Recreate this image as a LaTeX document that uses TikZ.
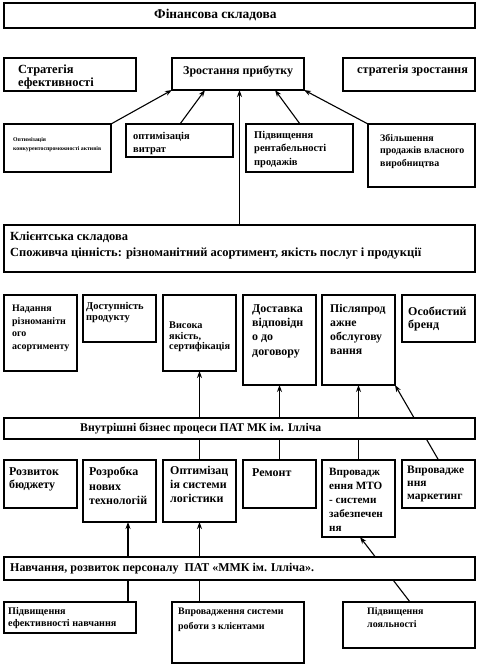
\documentclass[tikz,border=0pt]{standalone}
\usepackage{fontspec}
\setmainfont{Liberation Serif}
\usetikzlibrary{arrows.meta,backgrounds,calc}
\newcommand{\bx}[5]{\node[box, anchor=north west, minimum width={(#4-#2)*1bp}, minimum height={(#5-#3)*1bp}] (#1) at (#2,#3) {};}
\newcommand{\fs}[2]{\fontsize{#1}{#2}\selectfont\bfseries}
\tikzset{
  box/.style={draw, line width=1.3bp, fill=white, inner sep=0pt, outer sep=0pt},
  txt/.style={anchor=north west, inner sep=0pt, align=left},
  arr/.style={line width=1.1bp, -{Stealth[length=7bp,width=5bp]}}
}
\begin{document}
\begin{tikzpicture}[x=1bp,y=-1bp]
\useasboundingbox (0,0) rectangle (501,669);
% --- Financial
\bx{fin}{4}{3}{475}{28}
\node[txt, font=\fs{13.5}{15}] (tfin) at (154,9) {Фінансова складова};
\bx{streff}{4}{58}{136}{91}
\node[txt, font=\fs{12.5}{12.5}] (tstreff) at (18,65) {Стратегія\\ефективності};
\bx{zrost}{172}{58}{304}{90}
\node[txt, font=\fs{12}{13}] (tzrost) at (183,66) {Зростання прибутку};
\bx{strzr}{343}{58}{475}{91}
\node[txt, font=\fs{12.3}{13}] (tstrzr) at (357,65) {стратегія зростання};
\bx{opt1}{4}{124}{111}{172}
\node[txt, font=\fs{5.8}{9}] (topt1) at (13,137) {Оптимізація\\конкурентоспроможності активів};
\bx{opt2}{126}{124}{233}{157}
\node[txt, font=\fs{10.5}{13}] (topt2) at (133,132) {оптимізація\\витрат};
\bx{rent}{246}{124}{353}{172}
\node[txt, font=\fs{10.5}{13.5}] (trent) at (254,131) {Підвищення\\рентабельності\\продажів};
\bx{zbil}{368}{124}{475}{187}
\node[txt, font=\fs{10}{12.5}] (tzbil) at (380,134) {Збільшення\\продажів власного\\виробництва};
% --- Customer
\bx{klient}{4}{225}{475}{272}
\node[txt, font=\fs{12.5}{16}] (tklient) at (10,232) {Клієнтська складова\\Споживча цінність: різноманітний асортимент, якість послуг і продукції};
\bx{nad}{4}{295}{77}{371}
\node[txt, font=\fs{10}{12.5}] (tnad) at (12,305) {Надання\\різноманітн\\ого\\асортименту};
\bx{dost}{83}{295}{156}{342}
\node[txt, font=\fs{10.5}{11}] (tdost) at (86,302) {Доступність\\продукту};
\bx{vys}{163}{295}{236}{371}
\node[txt, font=\fs{10.3}{10.5}] (tvys) at (169,322) {Висока\\якість,\\сертифікація};
\bx{dos}{243}{295}{316}{385}
\node[txt, font=\fs{12}{14.5}] (tdos) at (252,304) {Доставка\\відповідн\\о до\\договору};
\bx{pisl}{322}{295}{395}{385}
\node[txt, font=\fs{11.8}{14}] (tpisl) at (330,304) {Післяпрод\\ажне\\обслугову\\вання};
\bx{osob}{402}{295}{475}{342}
\node[txt, font=\fs{12}{12.5}] (tosob) at (408,307) {Особистий\\бренд};
% --- Internal
\bx{biz}{4}{418}{475}{439}
\node[txt, font=\fs{11.8}{12}] (tbiz) at (80,423) {Внутрішні бізнес процеси ПАТ МК ім. Ілліча};
\bx{rozv}{4}{460}{77}{508}
\node[txt, font=\fs{12}{14}] (trozv) at (9,467) {Розвиток\\бюджету};
\bx{rozr}{83}{460}{156}{522}
\node[txt, font=\fs{12}{14.5}] (trozr) at (89,467) {Розробка\\нових\\технологій};
\bx{optl}{163}{460}{236}{522}
\node[txt, font=\fs{12}{14}] (toptl) at (170,466) {Оптимізац\\ія системи\\логістики};
\bx{rem}{243}{460}{316}{508}
\node[txt, font=\fs{12}{14}] (trem) at (252,468) {Ремонт};
\bx{mto}{322}{460}{395}{537}
\node[txt, font=\fs{11.2}{14}] (tmto) at (329,468) {Впровадж\\ення МТО\\- системи\\забезпечен\\ня};
\bx{mark}{402}{460}{475}{508}
\node[txt, font=\fs{11.5}{13}] (tmark) at (407,466) {Впровадже\\ння\\маркетинг};
% --- Learning
\bx{navch}{4}{557}{475}{580}
\node[txt, font=\fs{12}{13}] (tnavch) at (10,563) {Навчання, розвиток персоналу~~ПАТ «ММК ім. Ілліча».};
\bx{efn}{4}{602}{136}{633}
\node[txt, font=\fs{10.2}{12}] (tefn) at (8,607) {Підвищення\\ефективності навчання};
\bx{vsys}{172}{602}{304}{663}
\node[txt, font=\fs{10}{15}] (tvsys) at (178,608) {Впровадження системи\\роботи з клієнтами};
\bx{loy}{343}{602}{475}{648}
\node[txt, font=\fs{10}{13}] (tloy) at (367,607) {Підвищення\\лояльності};
% --- connectors
\coordinate (a2) at ($(opt2.north west)+(54,0)$);
\coordinate (e2) at ($(zrost.south west)+(33,0)$);
\coordinate (a4) at ($(rent.north west)+(54,0)$);
\coordinate (e4) at ($(zrost.south east)+(-29,0)$);
\coordinate (e10) at ($(rozr.south west)+(45,0)$);
\coordinate (a12) at ($(loy.north west)+(67,0)$);
\coordinate (e12) at ($(mto.south west)+(38,0)$);
\begin{scope}[on background layer]
\draw[arr] (opt1.north east) -- (zrost.south west);
\draw[arr] (a2) -- (e2);
\draw[arr] (klient.north) -- (klient.north |- zrost.south);
\draw[arr] (a4) -- (e4);
\draw[arr] (zbil.north west) -- (zrost.south east);
\draw[arr] (optl.north) -- (vys.south);
\draw[arr] (rem.north) -- (dos.south);
\draw[arr] (mto.north) -- (pisl.south);
\draw[arr] (mark.north) -- (pisl.south east);
\draw[arr] (efn.north -| e10) -- (e10);
\draw[arr] (vsys.north -| optl.south) -- (optl.south);
\draw[arr] (a12) -- (e12);
\end{scope}
\end{tikzpicture}
\end{document}
